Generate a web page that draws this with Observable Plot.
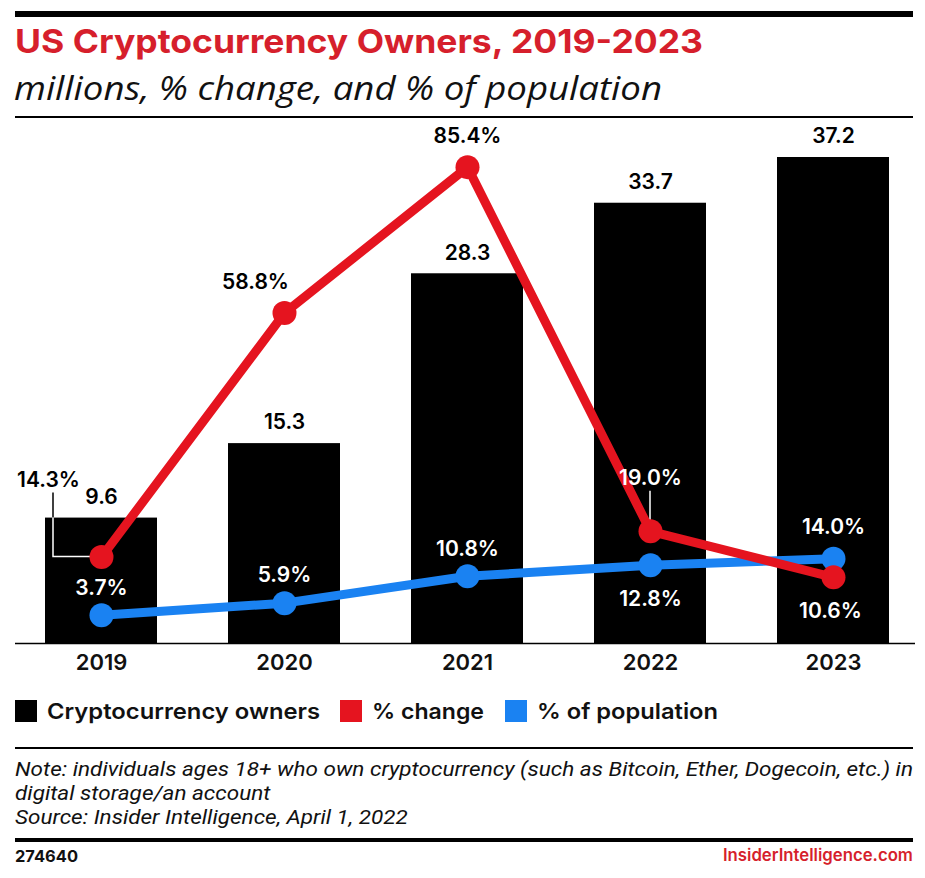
<!DOCTYPE html>
<html>
<head>
<meta charset="utf-8">
<script src="https://cdn.jsdelivr.net/npm/d3@7"></script>
<script src="https://cdn.jsdelivr.net/npm/@observablehq/plot@0.6"></script>
<style>
  html, body { margin: 0; padding: 0; background: #fff; }
  #wrap { position: relative; width: 925px; height: 878px; overflow: hidden; font-family: Inter, sans-serif; }
  .abs { position: absolute; white-space: nowrap; line-height: 1; transform-origin: left top; }
  .rule { position: absolute; left: 15px; width: 898px; background: #000; }
  #title { left: 15px; top: 25px; font-size: 33px; font-weight: 700; color: #d61f2c; }
  #subtitle { left: 14px; top: 72px; font-family: "Open Sans", sans-serif; font-size: 32px; font-style: italic; font-weight: 400; color: #111; }
  #chart { position: absolute; left: 0; top: 120px; }
  .leg { top: 700px; font-size: 22px; font-weight: 600; color: #111; }
  .sw { position: absolute; top: 700px; width: 22px; height: 22px; }
  #note { left: 15px; top: 757px; font-family: Roboto, sans-serif; font-size: 20px; line-height: 24px; font-style: italic; color: #111; }
  #code { left: 15px; top: 848px; font-size: 16px; font-weight: 700; color: #111; }
  #brand { right: 12px; top: 847px; font-size: 17px; font-weight: 600; color: #d61f2c; transform-origin: right top; }
</style>
</head>
<body>
<div id="wrap">
  <div class="rule" style="top:11px;height:6px"></div>
  <div id="title" class="abs">US Cryptocurrency Owners, 2019-2023</div>
  <div id="subtitle" class="abs">millions, % change, and % of population</div>
  <div class="rule" style="top:116px;height:1.5px"></div>
  <div id="chart"></div>
  <div class="sw" style="left:15px;background:#000"></div>
  <div id="leg1" class="abs leg" style="left:47px">Cryptocurrency owners</div>
  <div class="sw" style="left:340px;background:#e5141f"></div>
  <div id="leg2" class="abs leg" style="left:372px">% change</div>
  <div class="sw" style="left:505px;background:#1a82f2"></div>
  <div id="leg3" class="abs leg" style="left:537px">% of population</div>
  <div class="rule" style="top:747px;height:1.5px"></div>
  <div id="note" class="abs">Note: individuals ages 18+ who own cryptocurrency (such as Bitcoin, Ether, Dogecoin, etc.) in<br>digital storage/an account<br>Source: Insider Intelligence, April 1, 2022</div>
  <div class="rule" style="top:838px;height:4px"></div>
  <div id="code" class="abs">274640</div>
  <div id="brand" class="abs">InsiderIntelligence.com</div>
</div>
<script>
// ---- data ----
const years = ["2019", "2020", "2021", "2022", "2023"];
const owners = [9.6, 15.3, 28.3, 33.7, 37.2];            // millions
const pctChange = [14.3, 58.8, 85.4, 19.0, 10.6];       // % change
const pctPopulation = [3.7, 5.9, 10.8, 12.8, 14.0];     // % of population

const RED = "#e5141f", BLUE = "#1a82f2";
const FONT = "Inter, sans-serif";

// percentages share a secondary scale drawn into the bar frame
const pctToY = p => 0.612 + 0.4198 * p;

const rows = years.map((year, i) => ({
  year,
  owners: owners[i],
  change: pctChange[i],
  pop: pctPopulation[i]
}));

// label placement (pixel offsets from each point) and colour
const changeLabel = {
  "2019": {dx: -53, dy: -77, fill: "#000"},
  "2020": {dx: -29, dy: -31, fill: "#000"},
  "2021": {dx: 0, dy: -31, fill: "#000"},
  "2022": {dx: 0, dy: -53, fill: "#fff"},
  "2023": {dx: -3, dy: 34, fill: "#fff"}
};
const popLabel = {
  "2019": {dx: 0, dy: -27},
  "2020": {dx: 0, dy: -28},
  "2021": {dx: 0, dy: -27},
  "2022": {dx: 0, dy: 34},
  "2023": {dx: 0, dy: -31}
};

const fmtPct = v => v.toFixed(1) + "%";

function labelMarks(key, cfg, color) {
  return rows.map(r => Plot.text([r], {
    x: "year",
    y: d => pctToY(d[key]),
    text: d => fmtPct(d[key]),
    dx: cfg[r.year].dx,
    dy: cfg[r.year].dy,
    fill: cfg[r.year].fill ?? color,
    fontSize: 21,
    fontWeight: 600,
    fontFamily: FONT
  }));
}

// callout leader lines for the 2019 and 2022 % change labels
function callouts(index, scales) {
  const sx = scales.x, sy = scales.y;
  const bw = typeof sx.bandwidth === "function" ? sx.bandwidth() : (sx.bandwidth ?? 0);
  const cx = y => sx(y) + bw / 2;
  const g = d3.create("svg:g").attr("fill", "none");
  // 2019
  const r0 = rows[0];
  const px = cx(r0.year), py = sy(pctToY(r0.change)), barTop = sy(r0.owners);
  const lx = px - 48;
  g.append("line").attr("x1", lx).attr("x2", lx).attr("y1", py - 64).attr("y2", barTop)
    .attr("stroke", "#000").attr("stroke-width", 1.5);
  g.append("path").attr("d", `M${lx},${barTop}V${py}H${px}`)
    .attr("stroke", "#fff").attr("stroke-width", 1.5);
  // 2022
  const r3 = rows[3];
  const qx = cx(r3.year), qy = sy(pctToY(r3.change));
  g.append("line").attr("x1", qx).attr("x2", qx).attr("y1", qy - 40).attr("y2", qy - 5)
    .attr("stroke", "#fff").attr("stroke-width", 1.5);
  return g.node();
}

const chart = Plot.plot({
  width: 925,
  height: 560,
  marginTop: 37,
  marginBottom: 37,
  marginLeft: 8,
  marginRight: 0,
  style: {fontFamily: FONT, background: "transparent", overflow: "visible"},
  x: {type: "band", domain: years, paddingInner: 0.39, paddingOuter: 0.195, label: null},
  y: {domain: [0, 37.2], axis: null},
  marks: [
    Plot.barY(rows, {x: "year", y: "owners", fill: "#000"}),
    Plot.ruleY([0], {stroke: "#000", strokeWidth: 1.5, insetLeft: 7, insetRight: 10}),
    Plot.axisX({tickSize: 0, tickPadding: 11, fontSize: 22, fontWeight: 600, fill: "#111", label: null}),
    Plot.text(rows, {x: "year", y: "owners", text: d => d.owners.toFixed(1), dy: -21,
      fontSize: 21, fontWeight: 600, fill: "#000"}),
    callouts,
    Plot.line(rows, {x: "year", y: d => pctToY(d.pop), stroke: BLUE, strokeWidth: 9, curve: "linear"}),
    Plot.dot(rows, {x: "year", y: d => pctToY(d.pop), r: 12, fill: BLUE}),
    ...labelMarks("pop", popLabel, "#fff"),
    Plot.line(rows, {x: "year", y: d => pctToY(d.change), stroke: RED, strokeWidth: 9, curve: "linear"}),
    Plot.dot(rows, {x: "year", y: d => pctToY(d.change), r: 12, fill: RED}),
    ...labelMarks("change", changeLabel, "#000")
  ]
});
document.getElementById("chart").appendChild(chart);

// stretch HTML text horizontally to the widths in the reference
function fit(id, target) {
  const el = document.getElementById(id);
  el.style.transform = "none";
  const w = el.getBoundingClientRect().width;
  el.style.transform = `scaleX(${target / w})`;
}
function layoutText() {
  fit("title", 688);
  fit("subtitle", 648);
  fit("leg1", 273);
  fit("leg2", 112);
  fit("leg3", 181);
  fit("note", 898);
  fit("code", 63);
  fit("brand", 190);
}
layoutText();
if (document.fonts && document.fonts.ready) document.fonts.ready.then(layoutText);
</script>
</body>
</html>
